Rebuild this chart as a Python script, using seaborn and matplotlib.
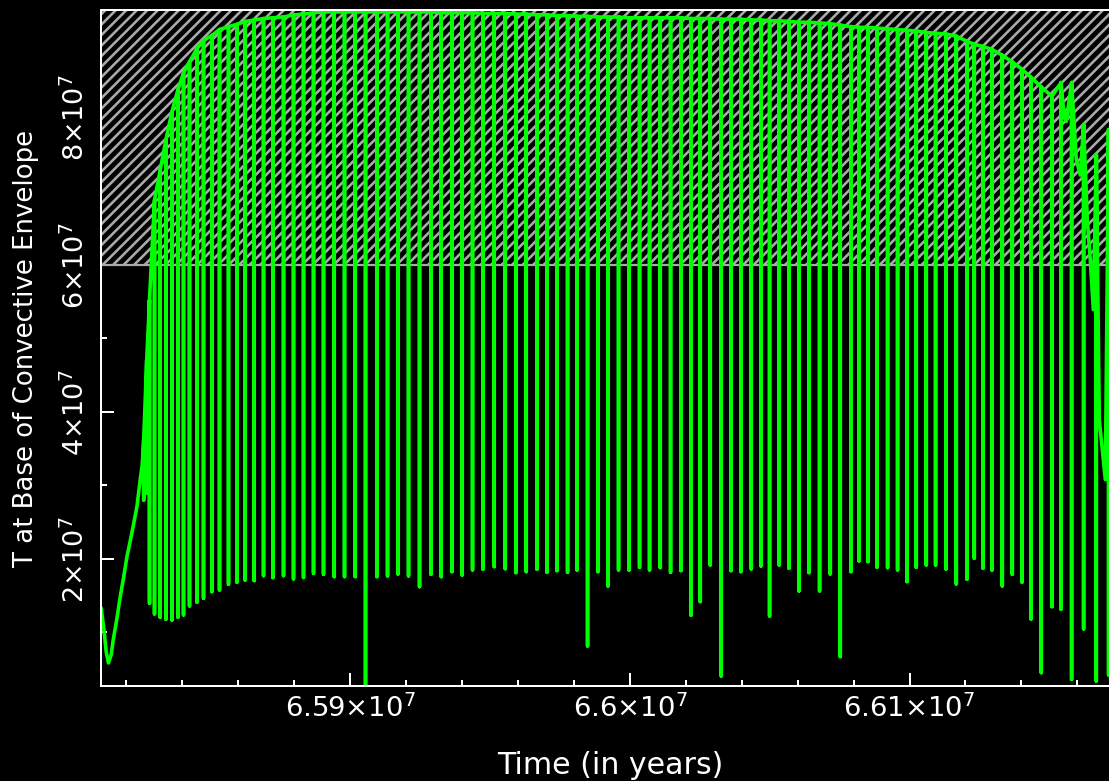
import numpy as np
import pandas as pd
import matplotlib
matplotlib.use("Agg")
import matplotlib.pyplot as plt
from matplotlib.ticker import MultipleLocator
import seaborn as sns

DPI = 126
PT = 72.0 / DPI  # points per pixel

# ---------------- data ----------------
# early evolution before the thermal pulses (time in years, T in units of 1e7 K)
pre_time = [65810958, 65812030, 65812746, 65813568, 65814534, 65815249, 65816500,
            65817752, 65819004, 65820148, 65821936, 65823724, 65824904, 65825619]
pre_T = [1.333, 1.007, 0.735, 0.585, 0.694, 0.898, 1.170,
         1.483, 1.755, 2.027, 2.354, 2.707, 3.075, 3.279]

# thermal pulses: time, envelope temperature before the pulse, minimum during the pulse (1e7 K)
pulse_time = [65826156, 65827228,
              65828230, 65830020, 65832060, 65834090, 65836240, 65838390, 65840390, 65842530, 65845180, 65847540,
              65850540, 65853260, 65856480, 65859480, 65862450, 65865670, 65869000, 65872360, 65876150, 65879720,
              65883300, 65886880, 65890450, 65894280, 65897960, 65901790, 65905470, 65909550, 65913340, 65917060,
              65920850, 65924780, 65928860, 65932540, 65936370, 65940050, 65943730, 65947450, 65951490, 65955430,
              65959250, 65962940, 65966760, 65970340, 65973920, 65977710, 65981070, 65984860, 65988580, 65992150,
              65995940, 65999660, 66003450, 66007030, 66010860, 66014540, 66018260, 66021830, 66025160, 66028740,
              66032670, 66036140, 66039710, 66043400, 66046870, 66049940, 66053410, 66056880, 66060460, 66064030,
              66067820, 66071650, 66075220, 66079050, 66081910, 66085130, 66088350, 66092140, 66095710, 66099080,
              66102400, 66105980, 66109300, 66113020, 66116710, 66120530, 66123140, 66126250, 66129470, 66133160,
              66136730, 66140200, 66143420, 66147100, 66150930, 66154150, 66157940, 66162230, 66166770, 66171170]
pulse_max = [3.62, 4.70,
             5.52, 6.88, 7.29, 7.70, 8.08, 8.38, 8.61, 8.76, 8.94, 9.05,
             9.12, 9.20, 9.24, 9.27, 9.31, 9.33, 9.35, 9.36, 9.37, 9.40,
             9.41, 9.43, 9.44, 9.44, 9.44, 9.44, 9.44, 9.44, 9.44, 9.44,
             9.44, 9.44, 9.44, 9.43, 9.43, 9.43, 9.43, 9.42, 9.42, 9.42,
             9.41, 9.41, 9.40, 9.40, 9.39, 9.39, 9.38, 9.38, 9.37, 9.37,
             9.37, 9.36, 9.36, 9.36, 9.36, 9.36, 9.36, 9.35, 9.35, 9.35,
             9.34, 9.34, 9.34, 9.33, 9.33, 9.32, 9.32, 9.31, 9.30, 9.30,
             9.29, 9.28, 9.26, 9.24, 9.23, 9.23, 9.22, 9.21, 9.20, 9.19,
             9.18, 9.16, 9.15, 9.14, 9.11, 9.04, 9.00, 8.97, 8.93, 8.85,
             8.76, 8.66, 8.55, 8.42, 8.29, 8.48, 8.48, 7.91, 7.50, 7.84]
pulse_min = [2.80, 2.90,
             1.397, 1.252, 1.207, 1.180, 1.170, 1.207, 1.238, 1.361, 1.411, 1.465,
             1.555, 1.578, 1.656, 1.683, 1.714, 1.705, 1.773, 1.746, 1.773, 1.728,
             1.748, 1.805, 1.792, 1.759, 1.759, 1.759, 0.260, 1.759, 1.769, 1.796,
             1.769, 1.623, 1.792, 1.759, 1.827, 1.782, 1.850, 1.860, 1.895, 1.867,
             1.814, 1.827, 1.860, 1.819, 1.841, 1.819, 1.850, 0.816, 1.827, 1.633,
             1.850, 1.850, 1.887, 1.850, 1.882, 1.819, 1.841, 1.234, 1.419, 1.918,
             0.408, 1.841, 1.827, 1.864, 1.905, 1.224, 1.918, 1.873, 1.565, 1.814,
             1.565, 1.796, 0.671, 1.827, 1.973, 1.963, 1.887, 1.882, 1.850, 1.691,
             1.887, 1.918, 1.918, 1.864, 1.660, 1.724, 2.010, 1.873, 1.850, 1.633,
             1.792, 1.683, 1.184, 0.453, 1.351, 1.316, 0.363, 1.048, 0.340, 0.422]

# final decline of the envelope temperature
post_time = [66155330, 66156040, 66159620, 66161050, 66163550, 66164620,
             66165700, 66167840, 66168920, 66169990, 66171418]
post_T = [8.00, 7.95, 7.43, 7.22, 6.61, 6.07, 5.39, 3.89, 3.48, 3.08, 2.74]

x_ticks = [6.59e7, 6.60e7, 6.61e7]
x_tick_labels = [r"$6.59{\times}10^{7}$", r"$6.6{\times}10^{7}$", r"$6.61{\times}10^{7}$"]
y_ticks = [2e7, 4e7, 6e7, 8e7]
y_tick_labels = [r"$2{\times}10^{7}$", r"$4{\times}10^{7}$", r"$6{\times}10^{7}$", r"$8{\times}10^{7}$"]
hatch_floor = 6e7
x_range = (65810900, 66171418)
y_range = (2.72e6, 9.47e7)

# ---------------- style ----------------
sns.set_theme(style="ticks", rc={
    "figure.facecolor": "black", "axes.facecolor": "black", "savefig.facecolor": "black",
    "axes.edgecolor": "white", "axes.labelcolor": "white", "text.color": "white",
    "xtick.color": "white", "ytick.color": "white",
})
plt.rcParams["font.family"] = ["DejaVu Sans"]
plt.rcParams["mathtext.fontset"] = "dejavusans"
plt.rcParams["hatch.color"] = "#a9a9a9"
plt.rcParams["hatch.linewidth"] = 2.6 * PT

# ---------------- build line path ----------------
t_p = np.repeat(np.array(pulse_time, dtype=float), 3)
T_p = np.column_stack([pulse_max, pulse_min, pulse_max]).ravel()
t_all = np.concatenate([np.array(pre_time, float), t_p, np.array(post_time, float)])
T_all = np.concatenate([pre_T, T_p, post_T]) * 1e7
order = np.argsort(t_all, kind="stable")
df = pd.DataFrame({"Time": t_all[order], "T": T_all[order]})

fig = plt.figure(figsize=(1109.3 / DPI, 781.3 / DPI), dpi=DPI)
ax = fig.add_axes([101 / 1109, 95 / 781, 1008 / 1109, 676 / 781])

ax.axhspan(hatch_floor, 2e8, facecolor="black", edgecolor="#a9a9a9", hatch="////",
           linewidth=0, zorder=1)
ax.axhline(hatch_floor, color="#a9a9a9", linewidth=2.2 * PT, zorder=2)

sns.lineplot(data=df, x="Time", y="T", sort=False, estimator=None, color="#00ff00",
             linewidth=3.6 * PT, ax=ax, zorder=3)

ax.set_xlim(*x_range)
ax.set_ylim(*y_range)

ax.set_xticks(x_ticks)
ax.set_xticklabels(x_tick_labels, fontsize=27.5 * PT)
ax.xaxis.set_minor_locator(MultipleLocator(2e4))
ax.set_yticks(y_ticks)
ax.set_yticklabels(y_tick_labels, fontsize=27 * PT, rotation=90, va="center")
ax.yaxis.set_minor_locator(MultipleLocator(1e7))

ax.tick_params(which="both", direction="in", top=True, right=False, width=2 * PT,
               colors="white")
ax.tick_params(which="major", length=13 * PT)
ax.tick_params(which="minor", length=6 * PT)
ax.tick_params(axis="x", which="major", pad=8 * PT)
ax.tick_params(axis="y", which="major", pad=11 * PT)

for side in ["left", "bottom", "top"]:
    ax.spines[side].set_color("white")
    ax.spines[side].set_linewidth(2 * PT)
    ax.spines[side].set_zorder(5)
ax.spines["right"].set_visible(False)

ax.set_xlabel("Time (in years)", fontsize=30 * PT, color="white")
ax.xaxis.set_label_coords(0.505, -0.096)
ax.set_ylabel("T at Base of Convective Envelope", fontsize=26 * PT, color="white")
ax.yaxis.set_label_coords(-0.062, 0.5)

fig.savefig("out.png", dpi=DPI, facecolor="black")
